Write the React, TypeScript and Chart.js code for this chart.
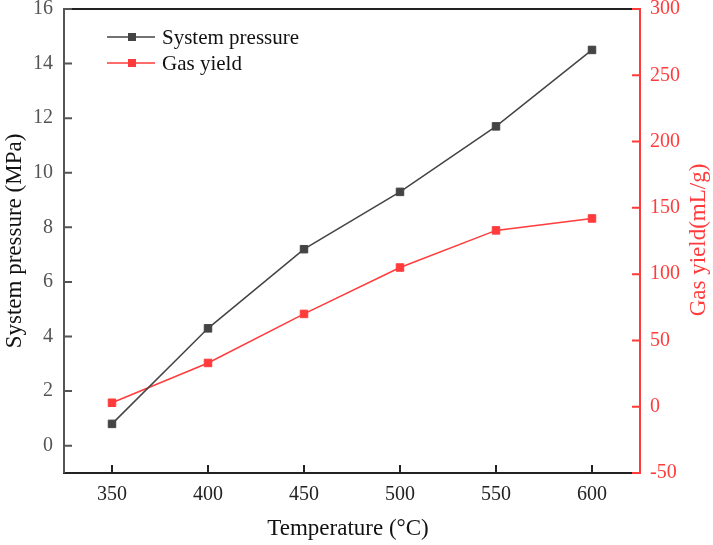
import { useEffect, useRef } from "react";
import { Chart, registerables } from "chart.js";

Chart.register(...registerables);

const temperatures = [350, 400, 450, 500, 550, 600];
const pressure = [0.8, 4.3, 7.2, 9.3, 11.7, 14.5];
const gasYield = [3, 33, 70, 105, 133, 142];

const xTicks = [350, 400, 450, 500, 550, 600];
const leftTicks = [0, 2, 4, 6, 8, 10, 12, 14, 16];
const rightTicks = [-50, 0, 50, 100, 150, 200, 250, 300];

const GRAY = "#444444";
const RED = "#ff3b3b";
const FONT = "'Liberation Serif', 'Times New Roman', serif";

const framePlugin = {
  id: "frame",
  afterDraw(chart: any) {
    const { ctx, chartArea: a, scales } = chart;
    const tick = 8;
    ctx.save();
    ctx.lineWidth = 2;
    ctx.lineCap = "butt";

    // top and bottom black lines
    ctx.strokeStyle = "#222";
    ctx.beginPath();
    ctx.moveTo(a.left, a.top);
    ctx.lineTo(a.right - tick, a.top);
    ctx.moveTo(a.left - 1, a.bottom);
    ctx.lineTo(a.right - tick, a.bottom);
    ctx.stroke();

    // left axis
    ctx.strokeStyle = "#555";
    ctx.beginPath();
    ctx.moveTo(a.left, a.top - 1);
    ctx.lineTo(a.left, a.bottom);
    for (const v of leftTicks) {
      const y = scales.y.getPixelForValue(v);
      ctx.moveTo(a.left, y);
      ctx.lineTo(a.left + tick, y);
    }
    ctx.stroke();

    // x ticks
    ctx.strokeStyle = "#222";
    ctx.beginPath();
    for (const v of xTicks) {
      const x = scales.x.getPixelForValue(v);
      ctx.moveTo(x, a.bottom);
      ctx.lineTo(x, a.bottom - tick);
    }
    ctx.stroke();

    // right axis
    ctx.strokeStyle = RED;
    ctx.beginPath();
    ctx.moveTo(a.right, a.top - 1);
    ctx.lineTo(a.right, a.bottom + 1);
    for (const v of rightTicks) {
      const y = scales.y2.getPixelForValue(v);
      ctx.moveTo(a.right, y);
      ctx.lineTo(a.right - tick, y);
    }
    ctx.stroke();

    // axis titles
    ctx.font = `23px ${FONT}`;
    ctx.textAlign = "center";
    ctx.textBaseline = "middle";
    ctx.fillStyle = "#111";
    ctx.fillText("Temperature (°C)", 348, 529);

    ctx.save();
    ctx.translate(15, 241);
    ctx.rotate(-Math.PI / 2);
    ctx.fillText("System pressure (MPa)", 0, 0);
    ctx.restore();

    ctx.save();
    ctx.fillStyle = RED;
    ctx.translate(699, 240);
    ctx.rotate(-Math.PI / 2);
    ctx.fillText("Gas yield(mL/g)", 0, 0);
    ctx.restore();

    // legend
    const items = [
      { label: "System pressure", color: GRAY, y: 37 },
      { label: "Gas yield", color: RED, y: 63 },
    ];
    ctx.font = `21px ${FONT}`;
    ctx.textAlign = "left";
    for (const it of items) {
      ctx.strokeStyle = it.color;
      ctx.lineWidth = 1.5;
      ctx.beginPath();
      ctx.moveTo(107, it.y);
      ctx.lineTo(155, it.y);
      ctx.stroke();
      ctx.fillStyle = it.color;
      ctx.fillRect(128, it.y - 4, 8, 8);
      ctx.fillStyle = "#111";
      ctx.fillText(it.label, 162, it.y + 1);
    }
    ctx.restore();
  },
};

function setTicks(values: number[]) {
  return (scale: any) => {
    scale.ticks = values.map((v) => ({ value: v }));
  };
}

export default function App() {
  const canvasRef = useRef<HTMLCanvasElement>(null);
  const chartRef = useRef<Chart | null>(null);

  useEffect(() => {
    document.body.style.margin = "0";
    if (!canvasRef.current) return;

    chartRef.current?.destroy();
    chartRef.current = new Chart(canvasRef.current, {
      type: "line",
      data: {
        datasets: [
          {
            label: "System pressure",
            data: temperatures.map((t, i) => ({ x: t, y: pressure[i] })),
            yAxisID: "y",
            borderColor: GRAY,
            backgroundColor: GRAY,
            borderWidth: 1.5,
            pointStyle: "rect",
            pointRadius: 5.3,
            pointBorderWidth: 1,
            pointBorderColor: GRAY,
            pointBackgroundColor: GRAY,
          },
          {
            label: "Gas yield",
            data: temperatures.map((t, i) => ({ x: t, y: gasYield[i] })),
            yAxisID: "y2",
            borderColor: RED,
            backgroundColor: RED,
            borderWidth: 1.5,
            pointStyle: "rect",
            pointRadius: 5.3,
            pointBorderWidth: 1,
            pointBorderColor: RED,
            pointBackgroundColor: RED,
          },
        ],
      },
      options: {
        animation: false,
        responsive: true,
        maintainAspectRatio: false,
        layout: { padding: { top: 9, left: 0, right: 0, bottom: 0 } },
        plugins: {
          legend: { display: false },
          tooltip: { enabled: false },
        },
        scales: {
          x: {
            type: "linear",
            min: 325,
            max: 625,
            afterBuildTicks: setTicks(xTicks),
            afterFit: (s: any) => {
              s.height = 72;
              s.paddingLeft = 0;
              s.paddingRight = 0;
            },
            grid: { display: false, drawTicks: false },
            border: { display: false },
            ticks: {
              padding: 10,
              color: "#222",
              font: { family: FONT, size: 20 },
              maxRotation: 0,
            },
          },
          y: {
            type: "linear",
            position: "left",
            min: -1,
            max: 16,
            afterBuildTicks: setTicks(leftTicks),
            afterFit: (s: any) => {
              s.width = 64;
              s.paddingTop = 0;
              s.paddingBottom = 0;
            },
            grid: { display: false, drawTicks: false },
            border: { display: false },
            ticks: {
              padding: 11,
              color: "#555",
              font: { family: FONT, size: 20 },
            },
          },
          y2: {
            type: "linear",
            position: "right",
            min: -50,
            max: 300,
            afterBuildTicks: setTicks(rightTicks),
            afterFit: (s: any) => {
              s.width = 73;
              s.paddingTop = 0;
              s.paddingBottom = 0;
            },
            grid: { display: false, drawTicks: false },
            border: { display: false },
            ticks: {
              padding: 10,
              color: RED,
              font: { family: FONT, size: 20 },
            },
          },
        },
      },
      plugins: [framePlugin],
    });

    return () => {
      chartRef.current?.destroy();
      chartRef.current = null;
    };
  }, []);

  return (
    <div style={{ position: "relative", width: "713px", height: "545px" }}>
      <canvas ref={canvasRef} />
    </div>
  );
}
